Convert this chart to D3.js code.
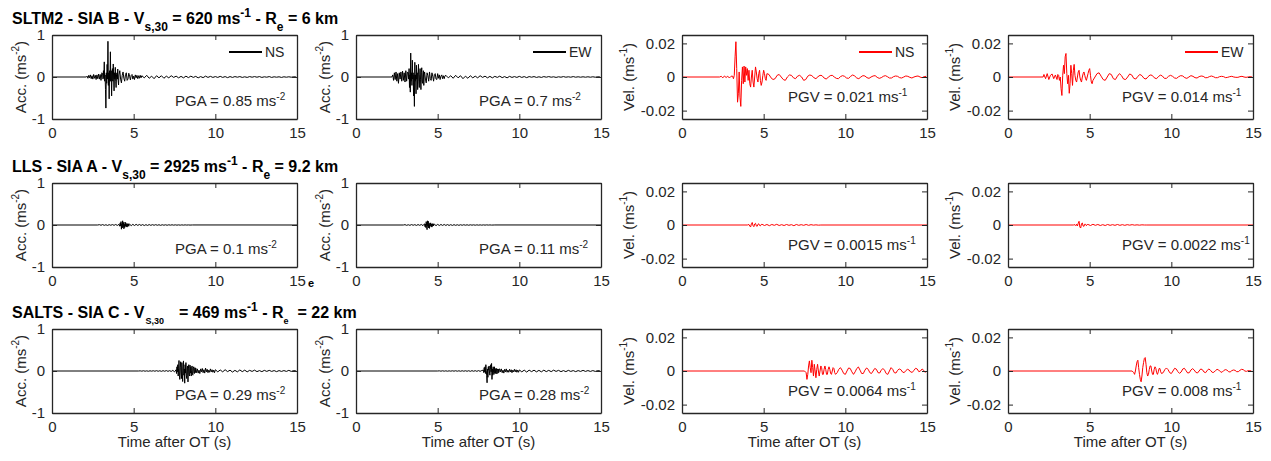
<!DOCTYPE html>
<html>
<head>
<meta charset="utf-8">
<script src="https://cdn.jsdelivr.net/npm/d3@7"></script>
<style>
  body { margin: 0; background: #fff; }
  text { font-family: "Liberation Sans", Arial, Helvetica, sans-serif; fill: #262626; }
</style>
</head>
<body>
<script>
// ---- data ----
// each trace = list of segments [t0, dt, values]; values in m/s^2 (acc) or m/s (vel)
const xTicks = [0, 5, 10, 15];
const accTicks = [-1, 0, 1];
const velTicks = [-0.02, 0, 0.02];
const accDomain = [-1, 1];
const velDomain = [-0.025, 0.025];
const components = ["NS", "EW", "NS", "EW"];

const sltm2AccNS = [
  [0, 2.1, [0, 0]],
  [2.15, 0.05, [0.02,-0.03,0.04,-0.02,0.05,-0.04,0.03,-0.05,0.06,-0.03,0.04,-0.06,0.05,-0.04,0.07,-0.05,0.06,-0.08,0.1]],
  [3.1, 0.025, [0.08,-0.05,0.15,-0.02,0.36,-0.1,0.05,-0.3,-0.74,0.1,-0.15,0.3,-0.05,0.85,-0.2,0.1,-0.52,0.15,-0.1,0.6,
                -0.1,0.15,-0.45,0.05,0.2,-0.1,0.31,-0.05,-0.33,0.1,-0.05,0.23,-0.1,-0.25,0.05,0.1,-0.05,0.19,-0.08,-0.19]],
  [4.1, 0.05, [0.05,0.15,-0.05,-0.14,0.04,0.12,-0.03,-0.1,0.06,0.1,-0.08,-0.05,0.09,0.02,-0.07,0.04,0.06,-0.05,0.02,-0.06,0.05,-0.02,0.04,-0.04,0.03,-0.03,0.04,-0.02]],
  [5.5, 0.15, [0.03,-0.02,0.04,-0.03,0.02,-0.04,0.03,-0.02,0.03,-0.03,0.02,-0.02,0.03,-0.01,0.02,-0.02,0.015,-0.02,0.02,-0.015,
               0.02,-0.01,0.015,-0.02,0.01,-0.015,0.02,-0.01,0.015,-0.01,0.01,-0.01,0.015,-0.01,0.01,-0.015,0.01,-0.01,0.01,-0.005,
               0.01,-0.01,0.005,-0.01,0.01,-0.005,0.01,-0.005,0.01,-0.01,0.005,-0.005,0.01,-0.01,0.005,-0.005,0.005,-0.01,0.005,-0.005,
               0.005,-0.005,0.005,0]]
];
const sltm2AccEW = [
  [0, 2.2, [0, 0]],
  [2.25, 0.05, [0.05,-0.08,0.1,-0.06,0.12,-0.1,0.08,-0.15,0.1,-0.05,0.12,-0.1,0.14,-0.08,0.1,-0.12,0.15,-0.1,0.12]],
  [3.2, 0.025, [0.1,-0.05,0.2,-0.25,0.05,-0.36,0.57,-0.1,0.1,-0.2,0.4,-0.05,0.1,-0.45,0.05,-0.7,0.35,-0.1,0.05,-0.4,
                0.28,-0.05,0.1,-0.3,0.05,0.3,-0.1,-0.25,0.05,0.2,-0.05,-0.3,0.1,0.22,-0.1,-0.15,0.05,0.15,-0.2,0.05]],
  [4.2, 0.05, [0.12,-0.05,-0.14,0.1,0.03,-0.1,0.12,-0.04,-0.08,0.1,0.02,-0.1,0.06,0.08,-0.05,-0.06,0.08,-0.03,0.05,-0.06,0.02,0.05,-0.04,0.03,-0.04,0.03]],
  [5.5, 0.15, [0.04,-0.02,0.03,-0.03,0.04,-0.02,0.03,-0.04,0.02,-0.03,0.03,-0.02,0.02,-0.02,0.03,-0.01,0.02,-0.02,0.015,-0.02,
               0.015,-0.01,0.02,-0.015,0.01,-0.02,0.015,-0.01,0.01,-0.01,0.015,-0.01,0.01,-0.015,0.01,-0.005,0.01,-0.01,0.005,-0.01,
               0.01,-0.005,0.01,-0.005,0.005,-0.01,0.005,-0.005,0.01,-0.005,0.005,-0.005,0.01,-0.005,0.005,-0.005,0.005,-0.005,0.005,-0.005,
               0.005,-0.005,0.005,0]]
];
const sltm2VelNS = [
  [0, 2.3, [0, 0]],
  [2.4, 0.1, [0.0004,-0.0005,0.0006,-0.0003,0.0005,-0.0006,0.0004]],
  [3.05, 0.05, [0.0005,0.0005,-0.001,0.001,0.012,0.021,0.005,-0.015,-0.01,0.003,-0.012,-0.0175,-0.002,0.006,-0.004,0.0065,-0.003,0.006,0.001,0.005,
                -0.002,0.004,-0.004,-0.006,0.0,0.004,-0.003,-0.006,0.0,0.006,0.003,-0.001,-0.003,0.002,0.004,-0.002,-0.005,-0.003,0.001,0.004,
                0.002,-0.001,-0.002]],
  [5.2, 0.125, [0.002,0.0015,-0.0005,-0.0015,-0.001,0.001,0.0015,0.0,-0.0015,-0.002,0.0,0.0012,
                0.001,-0.0005,-0.001,0.0005,0.001,0.0,-0.002,-0.0015,0.0005,0.0012,0.0008,-0.0004,
                -0.001,0.0002,0.001,0.0008,-0.0006,-0.0012,-0.0002,0.0008,0.001,0.0,-0.0008,-0.0010,
                0.0002,0.0008,0.0004,-0.0006,-0.0008,0.0004,0.0012,0.0006,-0.0006,-0.001,0.0,0.0008,
                0.0006,-0.0004,-0.0008,0.0,0.0006,0.0008,-0.0002,-0.0008,-0.0004,0.0004,0.0008,0.0002,
                -0.0006,-0.0006,0.0002,0.0006,0.0004,-0.0004,-0.0006,0.0,0.0006,0.0004,-0.0002,-0.0006,
                0.0,0.0004,0.0006,0.0,-0.0004,0.0002,0.0004]]
];
const sltm2VelEW = [
  [0, 2.15, [0, 0]],
  [2.2, 0.1, [0.0015,-0.001,0.002,-0.0015,0.001,0.0018,-0.001,0.0012,-0.0015]],
  [3.05, 0.05, [0.0015,0.001,-0.002,0.0,-0.007,-0.011,0.001,0.007,0.002,0.012,0.014,0.002,-0.004,0.001,-0.0097,-0.004,0.007,0.002,-0.005,0.004,
                0.0075,0.001,-0.002,-0.003,0.0,0.003,0.004,0.0,-0.002,-0.003,0.0,0.002,0.003,0.001,-0.001,-0.002,0.0,0.002,0.004,0.005,
                0.001,-0.003,-0.004]],
  [5.2, 0.125, [-0.002,0.0,0.002,0.0025,0.0005,-0.0015,-0.002,0.0,0.002,0.0015,-0.001,-0.0015,
                0.0005,0.002,0.0008,-0.0012,-0.0015,0.0,0.0018,0.0012,-0.0008,-0.0012,0.0004,0.0015,
                0.0008,-0.0008,-0.0012,0.0002,0.0012,0.001,-0.0004,-0.001,0.0,0.0012,0.0006,-0.0008,
                -0.0008,0.0004,0.001,0.0004,-0.0006,-0.0008,0.0002,0.0008,0.0006,-0.0004,-0.0008,0.0,
                0.0008,0.0004,-0.0004,-0.0006,0.0002,0.0006,0.0004,-0.0004,-0.0004,0.0002,0.0006,0.0002,
                -0.0004,-0.0004,0.0002,0.0004,0.0002,-0.0004,-0.0002,0.0002,0.0004,0.0,-0.0002,-0.0002,
                0.0002,0.0004,0.0,-0.0002,0.0,0.0002,0.0]]
];
const llsAccNS = [
  [0, 2.8, [0, 0]],
  [2.9, 0.1, [0.008,-0.006,0.01,-0.008,0.006,-0.01,0.008,-0.006,0.01,-0.008,0.012,-0.01,0.015]],
  [4.15, 0.025, [-0.03,0.05,-0.02,0.08,-0.1,0.03,-0.07,0.1,-0.04,0.06,-0.09,0.02,-0.06,0.07,-0.03,0.05,-0.04,0.02,-0.05,0.03,-0.02,0.03,-0.03,0.02]],
  [4.75, 0.1, [0.02,-0.015,0.015,-0.012,0.015,-0.01,0.012,-0.01,0.01,-0.012,0.008,-0.01,0.01,-0.008,0.008,-0.006,0.008,-0.006,0.006,-0.008,
               0.006,-0.005,0.005,-0.006,0.005,-0.004,0.005,-0.004,0.004,-0.004,0.003,-0.004,0.003,-0.003,0.003,-0.002,0.002,-0.002]],
  [8.6, 6.4, [0.001, 0]]
];
const llsAccEW = [
  [0, 2.9, [0, 0]],
  [3.0, 0.1, [0.008,-0.008,0.006,-0.008,0.01,-0.006,0.008,-0.01,0.01,-0.008,0.012,-0.015]],
  [4.2, 0.025, [0.03,-0.04,0.02,-0.06,0.08,-0.02,-0.11,0.1,-0.03,0.09,-0.07,0.02,-0.08,0.05,-0.02,0.05,-0.04,0.02,-0.05,0.03,-0.02,0.03,-0.02,0.02]],
  [4.8, 0.1, [0.018,-0.015,0.015,-0.012,0.012,-0.01,0.012,-0.01,0.01,-0.01,0.008,-0.01,0.008,-0.008,0.006,-0.008,0.006,-0.006,0.006,-0.005,
              0.005,-0.006,0.005,-0.004,0.004,-0.005,0.004,-0.004,0.003,-0.004,0.003,-0.003,0.003,-0.002,0.002,-0.002]],
  [8.5, 6.5, [0.001, 0]]
];
const llsVelNS = [
  [0, 4.0, [0, 0]],
  [4.1, 0.05, [0.0003,-0.0006,-0.0012,0.0008,0.0015,-0.0004,-0.001,0.0006,0.001,-0.0005,-0.0008,0.0004,0.0007,-0.0003,-0.0005,0.0003]],
  [4.9, 0.15, [0.0004,-0.0003,0.0003,-0.0004,0.0003,-0.0002,0.0004,-0.0003,0.0002,-0.0003,0.0003,-0.0002,0.0002,-0.0004,0.0003,-0.0002,
               0.0002,-0.0002,0.0003,-0.0002,0.0002,-0.0001,0.0001,-0.0001]],
  [8.5, 6.5, [0, 0]]
];
const llsVelEW = [
  [0, 4.0, [0, 0]],
  [4.1, 0.05, [0.0002,-0.0004,0.0005,-0.0006,0.001,0.0022,-0.0012,-0.0018,0.0008,0.0012,-0.0006,-0.0008,0.0005,0.0004,-0.0004,0.0003]],
  [4.9, 0.15, [0.0003,-0.0003,0.0004,-0.0002,0.0003,-0.0003,0.0002,-0.0003,0.0003,-0.0002,0.0002,-0.0002,0.0003,-0.0002,0.0002,-0.0002,
               0.0002,-0.0001,0.0002,-0.0001,0.0001,-0.0001,0.0001,0]],
  [8.5, 6.5, [0, 0]]
];
const saltsAccNS = [
  [0, 5.3, [0, 0]],
  [5.4, 0.1, [0.004,-0.004,0.006,-0.005,0.004,-0.006,0.005,-0.004,0.006,-0.005,0.008,-0.006,0.006,-0.008,0.008,-0.006,0.01,-0.008,0.008,-0.01,0.015,-0.02]],
  [7.6, 0.025, [0.03,-0.06,0.1,-0.02,0.15,-0.12,0.05,0.25,-0.1,-0.2,0.08,0.22,-0.05,-0.18,0.2,-0.05,-0.25,0.1,0.24,-0.1,
                0.05,-0.29,0.15,-0.05,0.2,-0.1,-0.18,0.05,0.12,-0.26,0.05,0.15,-0.08,-0.12,0.14,-0.05,0.1,-0.12,0.02,0.12,
                -0.08,-0.1,0.06,0.1,-0.05,-0.06,0.08,-0.04]],
  [8.8, 0.05, [0.07,-0.04,0.05,-0.05,0.02,-0.06,0.05,-0.02,0.06,-0.04,0.03,-0.05,0.07,-0.02,0.04,-0.04,0.02,-0.03,0.05,-0.02,0.03,-0.03,0.02,-0.04]],
  [10.0, 0.15, [0.03,-0.02,0.025,-0.02,0.03,-0.015,0.02,-0.025,0.015,-0.02,0.025,-0.015,0.02,-0.02,0.015,-0.01,0.02,-0.015,0.01,-0.015,
                0.015,-0.01,0.015,-0.01,0.01,-0.015,0.01,-0.01,0.01,-0.01,0.015,-0.01,0.01,0]]
];
const saltsAccEW = [
  [0, 5.0, [0, 0]],
  [5.1, 0.1, [0.004,-0.004,0.005,-0.004,0.004,-0.005,0.004,-0.004,0.005,-0.004,0.006,-0.005,0.005,-0.006,0.006,-0.005,0.006,-0.006,0.007,-0.008,
              0.008,-0.006,0.008,-0.008,0.01,-0.008,0.012]],
  [7.8, 0.025, [0.02,-0.04,0.08,-0.02,0.1,-0.06,0.15,0.02,-0.1,-0.28,0.05,-0.15,0.1,0.02,0.12,-0.05,-0.1,0.04,0.15,-0.02,
                0.18,-0.2,0.05,-0.1,0.1,-0.03,-0.08,0.1,-0.05,0.06,-0.06,0.03,0.06,-0.07,0.02,0.05,-0.05,0.04,-0.03,0.05]],
  [8.8, 0.05, [0.05,-0.02,0.05,-0.04,0.02,-0.05,0.04,-0.02,0.05,-0.03,0.02,-0.03,0.04,-0.02,0.03,-0.04,0.02,-0.02,0.04,-0.02,0.03,-0.03,0.02,-0.03]],
  [10.0, 0.15, [0.025,-0.02,0.02,-0.025,0.02,-0.015,0.02,-0.02,0.015,-0.02,0.02,-0.015,0.015,-0.015,0.02,-0.01,0.015,-0.015,0.01,-0.015,
                0.015,-0.01,0.01,-0.015,0.01,-0.01,0.015,-0.01,0.01,-0.01,0.01,-0.01,0.01,0]]
];
const saltsVelNS = [
  [0, 7.5, [0, 0]],
  [7.6, 0.05, [-0.001,-0.005,-0.002,0.003,0.006,0.002,-0.001,0.0064,0.002,-0.003,0.004,0.0,-0.004,0.001,0.004,0.0,-0.003,0.0,0.003,0.002,
               -0.002,-0.002,0.001,0.003,0.001,-0.002,-0.002,0.001,0.0025,0.001,-0.0015,-0.002,0.0,0.002,0.0015,-0.001]],
  [9.4, 0.1, [-0.002,-0.001,0.001,0.002,0.0005,-0.0015,-0.002,0.0,0.0018,0.0015,
              -0.0005,-0.002,-0.0005,0.0015,0.0024,0.0005,-0.0015,-0.0015,0.0005,0.0018,
              0.001,-0.001,-0.0015,0.0,0.0015,0.001,-0.001,-0.0012,0.0005,0.0015,
              0.0005,-0.0015,-0.002,0.0,0.002,0.001,-0.001,-0.0012,0.0004,0.0012,
              0.0008,-0.0006,-0.001,0.0002,0.001,0.0006,-0.0006,-0.0008,0.0004,0.0016,
              0.0012,-0.0004,0.0,0.0012,0.0004,-0.001]]
];
const saltsVelEW = [
  [0, 7.6, [0, 0]],
  [7.7, 0.05, [-0.001,-0.002,0.0,0.003,0.0055,0.0064,0.002,-0.002,-0.005,-0.0064,-0.003,0.002,0.005,0.0075,0.008,0.004,-0.001,-0.003,-0.002,0.001,
               0.003,0.003,0.0,-0.002,-0.002,0.001,0.0025,0.0015,-0.001,-0.002,-0.0005,0.0015,0.0015,-0.0005]],
  [9.4, 0.1, [-0.0015,-0.001,0.0008,0.0018,0.0008,-0.001,-0.0015,0.0,0.0016,0.0012,
              -0.0004,-0.0014,-0.0006,0.0012,0.0016,0.0002,-0.0012,-0.001,0.0006,0.0014,
              0.0006,-0.0008,-0.0012,0.0,0.0012,0.0008,-0.0006,-0.001,0.0004,0.0012,
              0.0004,-0.0008,-0.0008,0.0002,0.001,0.0006,-0.0004,-0.0008,0.0002,0.0008,
              0.0006,-0.0004,-0.0006,0.0002,0.0006,0.0004,-0.0004,-0.0004,0.0004,0.001,
              0.0008,0.0,-0.0002,0.0002,0.0002,0.0]]
];

const traces = [
  [sltm2AccNS, sltm2AccEW, sltm2VelNS, sltm2VelEW],
  [llsAccNS, llsAccEW, llsVelNS, llsVelEW],
  [saltsAccNS, saltsAccEW, saltsVelNS, saltsVelEW]
];
const peakValues = [
  ["PGA = 0.85 ms", "PGA = 0.7 ms", "PGV = 0.021 ms", "PGV = 0.014 ms"],
  ["PGA = 0.1 ms", "PGA = 0.11 ms", "PGV = 0.0015 ms", "PGV = 0.0022 ms"],
  ["PGA = 0.29 ms", "PGA = 0.28 ms", "PGV = 0.0064 ms", "PGV = 0.008 ms"]
];
// title pieces: [text, kind, extra gap before]
const rowTitles = [
  [["SLTM2 - SIA B - V","n",0],["s,30","sub",0],[" = 620 ms","n",0],["-1","sup",0],[" - R","n",0],["e","sub",0],[" = 6 km","n",0]],
  [["LLS - SIA A - V","n",0],["s,30","sub",0],[" = 2925 ms","n",0],["-1","sup",0],[" - R","n",0],["e","sub",0],[" = 9.2 km","n",0]],
  [["SALTS - SIA C - V","n",0],["S,30","tiny",1],["= 469 ms","n",15],["-1","sup",0],[" - R","n",0],["e","tiny",0],["= 22 km","n",9]]
];

// ---- layout ----
const colX = [52, 356, 682, 1008];
const rowY = [35, 183, 329];
const W = 245, H = 84;
const peakDx = [123, 123, 106, 114];

function expand(segs) {
  const pts = [];
  segs.forEach(function (s) {
    s[2].forEach(function (v, i) { pts.push([s[0] + i * s[1], v]); });
  });
  return pts;
}

const svg = d3.select("body").append("svg")
  .attr("width", 1271).attr("height", 461);

// row titles
rowTitles.forEach(function (parts, r) {
  const t = svg.append("text")
    .attr("x", 12).attr("y", rowY[r] - 11)
    .style("font-weight", "bold").style("font-size", "16px").style("fill", "#000");
  let shift = 0;
  parts.forEach(function (p) {
    const want = p[1] === "sub" ? 7 : p[1] === "tiny" ? 6 : p[1] === "sup" ? -7 : 0;
    const ts = t.append("tspan").text(p[0]).attr("dy", want - shift).attr("dx", p[2]);
    shift = want;
    if (p[1] === "sub" || p[1] === "sup") ts.style("font-size", "12px");
    if (p[1] === "tiny") ts.style("font-size", "9px");
  });
});

// stray subscript glyph visible in the figure
svg.append("text").attr("x", 308).attr("y", 287)
  .style("font-weight", "bold").style("font-size", "11px").style("fill", "#000").text("e");

for (let r = 0; r < 3; r++) {
  for (let c = 0; c < 4; c++) {
    const isVel = c >= 2;
    const x = d3.scaleLinear().domain([0, 15]).range([0, W]);
    const y = d3.scaleLinear().domain(isVel ? velDomain : accDomain).range([H, 0]);
    const yt = isVel ? velTicks : accTicks;
    const g = svg.append("g").attr("transform", `translate(${colX[c]},${rowY[r]})`);

    // trace
    g.append("path")
      .datum(expand(traces[r][c]))
      .attr("fill", "none")
      .attr("stroke", isVel ? "#ff0000" : "#000")
      .attr("stroke-width", 1)
      .attr("stroke-linejoin", "round")
      .attr("d", d3.line().x(d => x(d[0])).y(d => y(d[1])));

    // axes, ticks inside (matlab box style)
    const axB = g.append("g").attr("transform", `translate(0,${H})`)
      .call(d3.axisBottom(x).tickValues(xTicks).tickSizeInner(-5).tickSizeOuter(0).tickPadding(8));
    const axT = g.append("g")
      .call(d3.axisTop(x).tickValues(xTicks).tickSizeInner(-5).tickSizeOuter(0).tickFormat(""));
    const axL = g.append("g")
      .call(d3.axisLeft(y).tickValues(yt).tickSizeInner(-5).tickSizeOuter(0).tickPadding(7)
        .tickFormat(d => d === 0 ? "0" : String(d)));
    const axR = g.append("g").attr("transform", `translate(${W},0)`)
      .call(d3.axisRight(y).tickValues(yt).tickSizeInner(-5).tickSizeOuter(0).tickFormat(""));
    [axB, axT, axL, axR].forEach(function (a) {
      a.selectAll("path.domain").attr("stroke", "#262626").attr("stroke-width", 1.3);
      a.selectAll(".tick line").attr("stroke", "#262626").attr("stroke-width", 1);
      a.selectAll(".tick text").style("font-size", "15px").attr("fill", "#262626");
    });

    // y label
    const yl = g.append("text")
      .attr("transform", `translate(${isVel ? -54 : -32},${H / 2}) rotate(-90)`)
      .attr("text-anchor", "middle").attr("dominant-baseline", "central")
      .style("font-size", "15px");
    yl.append("tspan").text(isVel ? "Vel. (ms" : "Acc. (ms");
    yl.append("tspan").text(isVel ? "-1" : "-2").attr("dy", -5).style("font-size", "10px");
    yl.append("tspan").text(")").attr("dy", 5);

    // peak value annotation
    const pk = g.append("text")
      .attr("x", peakDx[c]).attr("y", isVel ? 67 : 71)
      .style("font-size", "15px");
    pk.append("tspan").text(peakValues[r][c]);
    pk.append("tspan").text(isVel ? "-1" : "-2").attr("dy", -6).style("font-size", "10px");

    // legend on the first row
    if (r === 0) {
      g.append("line")
        .attr("x1", W - 68).attr("x2", W - 35).attr("y1", 17).attr("y2", 17)
        .attr("stroke", isVel ? "#ff0000" : "#000").attr("stroke-width", 2);
      g.append("text").attr("x", W - 32).attr("y", 22)
        .style("font-size", "14px").text(components[c]);
    }

    // x label on the last row
    if (r === 2) {
      g.append("text").attr("x", W / 2).attr("y", 447 - rowY[r])
        .attr("text-anchor", "middle").style("font-size", "15px")
        .text("Time after OT (s)");
    }
  }
}
</script>
</body>
</html>
